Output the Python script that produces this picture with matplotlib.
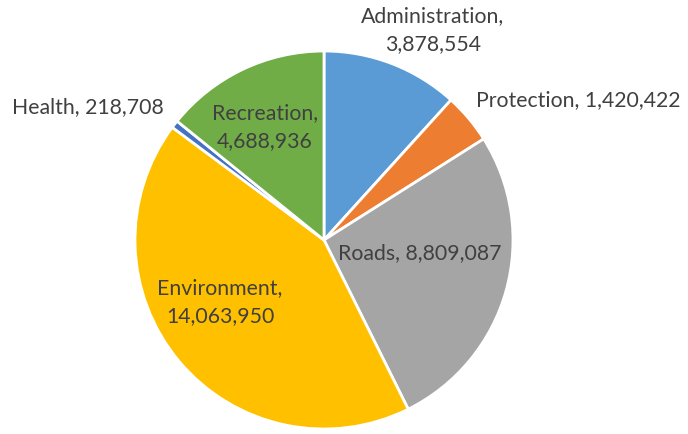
import matplotlib.pyplot as plt

# budget by department (clockwise from 12 o'clock)
names = ['Administration', 'Protection', 'Roads', 'Environment', 'Health', 'Recreation']
amounts = [3878554, 1420422, 8809087, 14063950, 218708, 4688936]
colours = ['#5B9BD5', '#ED7D31', '#A5A5A5', '#FFC000', '#4472C4', '#70AD47']

# label text layout (pixel coords, y from top) and line breaks
label_pos = [(433, 30), (578, 100), (420, 253), (220, 302), (88, 107), (265, 127)]
label_break = [True, False, False, True, False, True]

W, H = 688, 434
fig = plt.figure(figsize=(W / 100, H / 100), dpi=100)
ax = fig.add_axes([0, 0, 1, 1])
ax.set_xlim(0, W)
ax.set_ylim(0, H)
ax.set_aspect('equal')
ax.axis('off')

ax.pie(amounts, colors=colours, startangle=90, counterclock=False,
       center=(324, H - 240), radius=189,
       wedgeprops=dict(edgecolor='white', linewidth=2.0))
ax.set_xlim(0, W)
ax.set_ylim(0, H)

for name, val, (px, py), brk in zip(names, amounts, label_pos, label_break):
    sep = ',\n' if brk else ', '
    ax.text(px, H - py, name + sep + f'{val:,}', ha='center', va='center',
            fontsize=15.3, color='#404040', family='Lato', linespacing=1.45)

fig.savefig('out.png', dpi=100)
